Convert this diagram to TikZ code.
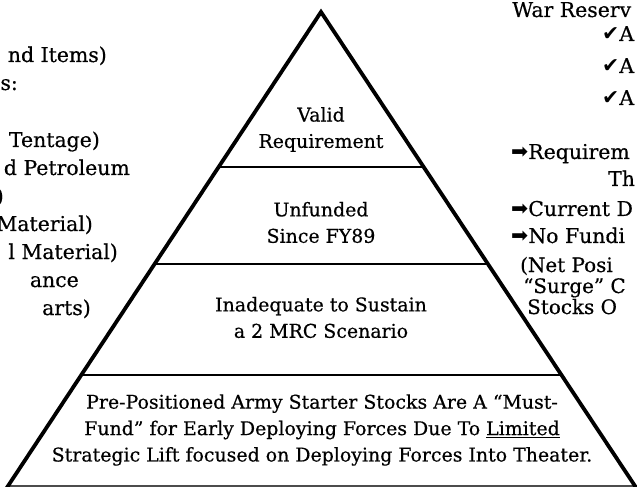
\documentclass[tikz,border=0pt]{standalone}
\usepackage{fontspec}
\setmainfont{DejaVu Serif}[FakeBold=0.5]
\newfontfamily\symbfont{DejaVu Sans}
\usetikzlibrary{calc}
\newcommand{\chk}{{\symbfont ✔}}
\newcommand{\arr}{{\symbfont ➡}}
\tikzset{tiertext/.style = {align=center, inner sep=0pt, font=\fontsize{19}{26.5}\selectfont},
  sidetext/.style = {inner sep=0pt, font=\fontsize{20.5}{28}\selectfont},
  smalltext/.style = {inner sep=0pt, font=\fontsize{20}{21}\selectfont}}

\begin{document}
\begin{tikzpicture}[x=1bp, y=-1bp]
      \useasboundingbox (0,0) rectangle (637,487);
      \coordinate (apex) at (321,12);
      \coordinate (bl) at (6,489);
      \coordinate (br) at (637,489);
      \foreach \t in {0.325,0.528,0.761}
        \draw[line width=2.6bp] ($(apex)!\t!(bl)$) -- ($(apex)!\t!(br)$);
      \draw[line width=1.4bp, black!70] ($(apex)!0.994!(bl)$) -- ($(apex)!0.994!(br)$);
      \draw[line width=3.8bp] (bl) -- (apex) -- (br);
      \node[tiertext] (valid) at (321,129.5) {Valid\\Requirement};
      \node[tiertext] (unfunded) at (321,222.5) {Unfunded\\Since FY89};
      \node[tiertext] (inadequate) at (321,317.5) {Inadequate to Sustain\\a 2 MRC Scenario};
      \node[tiertext] (prepo) at (322,430) {Pre-Positioned Army Starter Stocks Are A “Must-\\Fund” for Early Deploying Forces Due To \underline{Limited}\\Strategic Lift focused on Deploying Forces Into Theater.};
      \node[sidetext, anchor=base east] (items) at (107,62) {nd Items)};
      \node[sidetext, anchor=base east] (types) at (18,90) {es:};
      \node[sidetext, anchor=base east] (tentage) at (100,147) {Tentage)};
      \node[sidetext, anchor=base east] (petroleum) at (130,175) {d Petroleum};
      \node[sidetext, anchor=base east] (paren) at (4,203) {)};
      \node[sidetext, anchor=base east] (material) at (93,231) {Material)};
      \node[sidetext, anchor=base east] (lmaterial) at (118,259) {l Material)};
      \node[sidetext, anchor=base east] (ance) at (79,287) {ance};
      \node[sidetext, anchor=base east] (parts) at (91,315) {arts)};
      \node[sidetext, anchor=base west] (reserve) at (512,17) {War Reserv};
      \node[sidetext, anchor=base west] (checka) at (602,41) {\chk A};
      \node[sidetext, anchor=base west] (checkb) at (602,73) {\chk A};
      \node[sidetext, anchor=base west] (checkc) at (602,105) {\chk A};
      \node[sidetext, anchor=base west] (require) at (511,159) {\arr Requirem};
      \node[sidetext, anchor=base west] (th) at (608,186) {Th};
      \node[sidetext, anchor=base west] (current) at (511,216) {\arr Current D};
      \node[sidetext, anchor=base west] (nofund) at (511,243) {\arr No Fundi};
      \node[smalltext, anchor=base west] (netpos) at (520,272) {(Net Posi};
      \node[smalltext, anchor=base west] (surge) at (523,293) {“Surge” C};
      \node[smalltext, anchor=base west] (stocks) at (527,314) {Stocks O};
    \end{tikzpicture}
\end{document}
